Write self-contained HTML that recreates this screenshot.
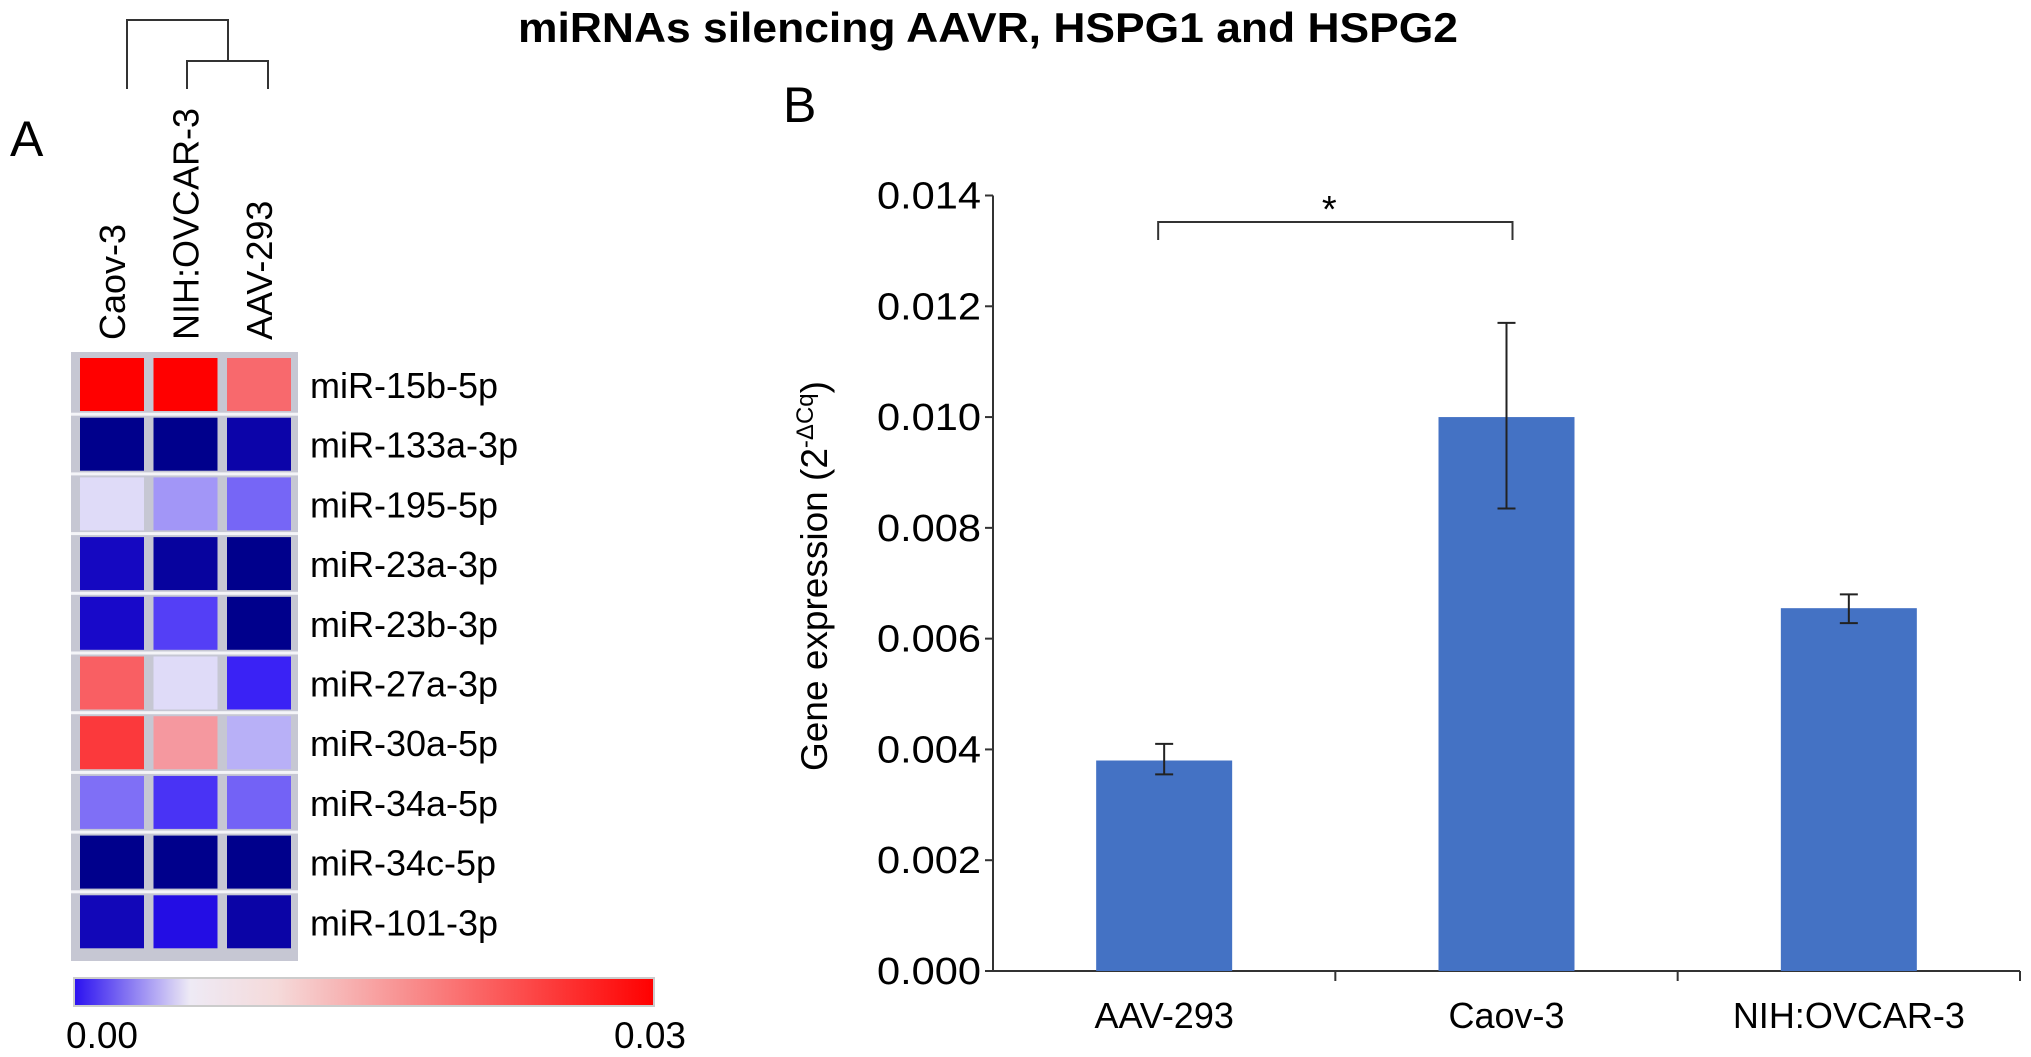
<!DOCTYPE html>
<html><head><meta charset="utf-8"><style>
body{margin:0;background:#fff;}
svg{display:block;font-family:"Liberation Sans",sans-serif;}
</style></head><body>
<svg id="fig" width="2031" height="1057" viewBox="0 0 2031 1057" xmlns="http://www.w3.org/2000/svg">
<defs>
<linearGradient id="cbar" x1="0" x2="1" y1="0" y2="0">
<stop offset="0" stop-color="#2a10f0"/><stop offset="0.2" stop-color="#eeeaf5"/><stop offset="0.35" stop-color="#f5dada"/><stop offset="1" stop-color="#ff0000"/>
</linearGradient>
</defs>
<text x="988" y="42" text-anchor="middle" font-size="42" font-weight="bold" textLength="940" lengthAdjust="spacingAndGlyphs">miRNAs silencing AAVR, HSPG1 and HSPG2</text>
<text x="10" y="156" font-size="50">A</text>
<text x="783" y="122" font-size="50">B</text>
<g id="dendro" stroke="#333" stroke-width="2" fill="none">
<path d="M127 89 V20 H228 V61"/><path d="M187 89 V61 H268 V89"/>
</g>
<g id="heat"></g>
<rect x="74" y="978" width="580" height="28" fill="url(#cbar)" stroke="#ccc" stroke-width="2"/>
<text x="66" y="1048" font-size="37">0.00</text>
<text x="686" y="1048" font-size="37" text-anchor="end">0.03</text>
<g id="bars"></g>
</svg>
<script>
const cellLines=["Caov-3","NIH:OVCAR-3","AAV-293"];
const mirnas=["miR-15b-5p","miR-133a-3p","miR-195-5p","miR-23a-3p","miR-23b-3p","miR-27a-3p","miR-30a-5p","miR-34a-5p","miR-34c-5p","miR-101-3p"];
const heatValues=[
[0.030,0.030,0.0234],[0.000,0.000,0.001],[0.0140,0.0105,0.0080],[0.0018,0.0006,0.000],
[0.0021,0.006,0.000],[0.024,0.0140,0.0045],[0.0264,0.0204,0.0118],[0.0085,0.0054,0.0078],
[0.000,0.000,0.000],[0.0015,0.003,0.0009]];
const heatMax=0.03;
const categories=["AAV-293","Caov-3","NIH:OVCAR-3"];
const barValues=[0.0038,0.0100,0.00655];
const errLow=[0.00355,0.00835,0.00628];
const errHigh=[0.0041,0.0117,0.0068];
const yTicks=[0,0.002,0.004,0.006,0.008,0.010,0.012,0.014];
const NS="http://www.w3.org/2000/svg";
function mk(tag,attrs,parent,txt){const e=document.createElementNS(NS,tag);for(const k in attrs)e.setAttribute(k,attrs[k]);if(txt!==undefined)e.textContent=txt;parent.appendChild(e);return e;}
const stops=[[0,[0,0,140]],[0.12,[42,16,245]],[0.5,[240,238,248]],[1,[255,0,0]]];
function cmap(v){const t=Math.max(0,Math.min(1,v/heatMax));for(let i=1;i<stops.length;i++){if(t<=stops[i][0]){const a=stops[i-1],b=stops[i];const f=(t-a[0])/(b[0]-a[0]);const c=a[1].map((x,j)=>Math.round(x+(b[1][j]-x)*f));return `rgb(${c})`;}}return "rgb(255,0,0)";}
const heat=document.getElementById('heat');
const colX=c=>80+c*73.5, rowY=r=>358+r*59.7;
const fr=mk('rect',{x:71,y:352,width:227,height:609,fill:'#c6c7d3'},heat);


mirnas.forEach((m,r)=>{
 if(r>0){const sep=mk('rect',{x:71,y:rowY(r)-5,width:227,height:3,fill:'#f4f4f8'},heat);
 
 }
 cellLines.forEach((cl,c)=>{
  const e=mk('rect',{x:colX(c),y:rowY(r),width:64,height:53,fill:cmap(heatValues[r][c])},heat);
  
  
 });
 const t=mk('text',{x:310,y:rowY(r)+40,'font-size':36},heat,m);
 
 
});
cellLines.forEach((cl,c)=>{
 const x=colX(c)+45;
 const t=mk('text',{x:x,y:340,'font-size':36,transform:`rotate(-90 ${x} 340)`},heat,cl);
 
 
});
const g=document.getElementById('bars');
const x0=993,x1=2020,yB=971,yT=195.5,yMax=0.014;
const ys=v=>yB-(v/yMax)*(yB-yT);
const cw=(x1-x0)/3, xc=i=>x0+cw*(i+0.5);
const ax=mk('path',{d:`M${x0} ${yT} V${yB} H${x1}`,stroke:'#333','stroke-width':2,fill:'none'},g);


yTicks.forEach(v=>{
 const tk=mk('line',{x1:x0-8,x2:x0,y1:ys(v),y2:ys(v),stroke:'#333','stroke-width':2},g);
 
 
 const tl=mk('text',{x:x0-12,y:ys(v)+13,'font-size':38,'text-anchor':'end',textLength:104,lengthAdjust:'spacingAndGlyphs'},g,v.toFixed(3));
 
 
});
[1,2,3].forEach(i=>{const l=mk('line',{x1:x0+cw*i,x2:x0+cw*i,y1:yB,y2:yB+10,stroke:'#333','stroke-width':2},g);
 
 });
categories.forEach((c,i)=>{
 const b=mk('rect',{x:xc(i)-68,y:ys(barValues[i]),width:136,height:yB-ys(barValues[i]),fill:'#4472c4'},g);
 
 
 const e=mk('path',{d:`M${xc(i)} ${ys(errLow[i])} V${ys(errHigh[i])} M${xc(i)-9} ${ys(errLow[i])} H${xc(i)+9} M${xc(i)-9} ${ys(errHigh[i])} H${xc(i)+9}`,stroke:'#222','stroke-width':2,fill:'none'},g);
 
 
 const t=mk('text',{x:xc(i),y:1028,'font-size':36,'text-anchor':'middle'},g,c);
 
 
});
const br=mk('path',{d:`M${xc(0)-6} 240 V222 H${xc(1)+6} V240`,stroke:'#333','stroke-width':2,fill:'none'},g);


const st=mk('text',{x:(xc(0)+xc(1))/2-6,y:222,'font-size':38,'text-anchor':'middle'},g,'*');


const yl=mk('text',{x:0,y:0,'font-size':37,'text-anchor':'middle',transform:'translate(827 576) rotate(-90)'},g);


yl.innerHTML='Gene expression (2<tspan dy="-14" font-size="24">-ΔCq</tspan><tspan dy="14">)</tspan>';
</script>
</body></html>
